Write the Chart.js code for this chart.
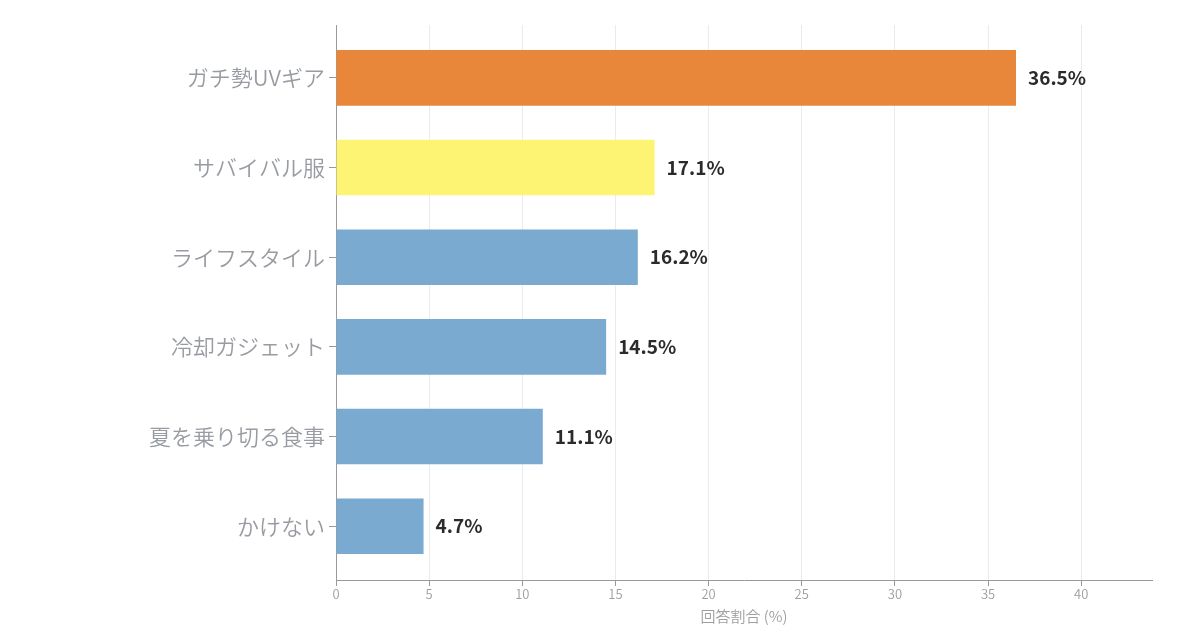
<!DOCTYPE html>
<html><head><meta charset="utf-8">
<script src="https://cdn.jsdelivr.net/npm/chart.js@4/dist/chart.umd.min.js"></script>
<style>html,body{margin:0;padding:0;background:#fff;}#wrap{width:1200px;height:630px;}</style>
</head><body><div id="wrap"><canvas id="c" width="1200" height="630"></canvas></div>
<script>
const categories = ["ガチ勢UVギア","サバイバル服","ライフスタイル","冷却ガジェット","夏を乗り切る食事","かけない"];
const values = [36.5, 17.1, 16.2, 14.5, 11.1, 4.7];
const barColors = ["#E8873A","#FCF472","#7AAAD0","#7AAAD0","#7AAAD0","#7AAAD0"];
const xTicks = [0,5,10,15,20,25,30,35,40];
const xTitle = "回答割合 (%)";
const FONT = "'Noto Sans CJK JP','Noto Sans',sans-serif";

const valueLabels = {
  id: 'valueLabels',
  afterDatasetsDraw(chart) {
    const ctx = chart.ctx;
    const meta = chart.getDatasetMeta(0);
    ctx.save();
    ctx.font = "bold 19px " + FONT;
    ctx.fillStyle = "#2b2b2b";
    ctx.textBaseline = "middle";
    ctx.textAlign = "left";
    meta.data.forEach((el, i) => {
      ctx.fillText(values[i].toFixed(1) + "%", el.x + 12, el.y);
    });
    ctx.restore();
  }
};

new Chart(document.getElementById('c'), {
  type: 'bar',
  data: {
    datasets: [{
      data: values.map((v, i) => ({x: v, y: i})),
      backgroundColor: barColors,
      borderWidth: 0,
      barPercentage: 0.62,
      categoryPercentage: 1
    }]
  },
  options: {
    indexAxis: 'y',
    responsive: false,
    animation: false,
    layout: {padding: {top: 25, right: 48, left: 0, bottom: 0}},
    plugins: {legend: {display: false}, tooltip: {enabled: false}},
    scales: {
      x: {
        type: 'linear',
        min: 0,
        max: 43.8,
        afterBuildTicks(scale) { scale.ticks = xTicks.map(v => ({value: v})); },
        ticks: {color: '#9e9e9e', font: {family: FONT, size: 13, weight: 350}, padding: 0},
        grid: {color: '#ebebeb', tickColor: '#999', tickLength: 6, lineWidth: 1},
        border: {color: '#999', width: 1},
        title: {display: true, text: xTitle, color: '#9e9e9e', font: {family: FONT, size: 15, weight: 350}, padding: {top: 0, bottom: 5}},
        afterFit(scale) { scale.height = 50; }
      },
      y: {
        type: 'linear',
        reverse: true,
        offset: false,
        min: -0.59,
        max: 5.6,
        afterBuildTicks(scale) { scale.ticks = categories.map((c, i) => ({value: i})); },
        ticks: {
          autoSkip: false,
          color: '#989ca2',
          font: {family: FONT, size: 22, weight: 350},
          padding: 4,
          callback: (v) => categories[v]
        },
        grid: {drawOnChartArea: false, offset: false, color: '#999', tickLength: 7},
        border: {color: '#999', width: 1},
        afterFit(scale) { scale.width = 336; }
      }
    }
  },
  plugins: [valueLabels]
});
</script></body></html>
